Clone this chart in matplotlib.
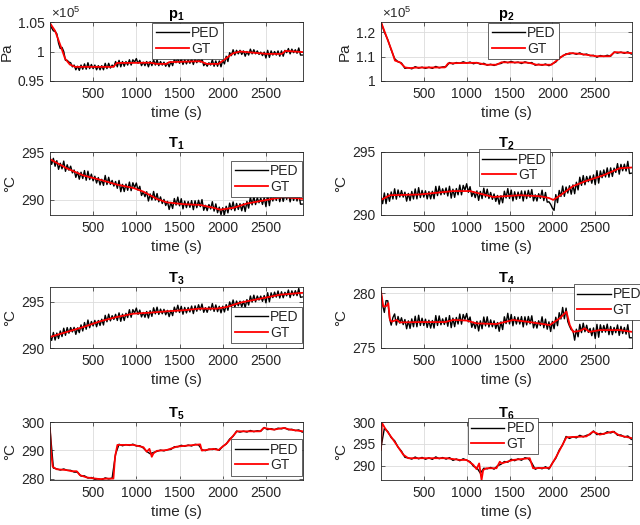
import numpy as np
import matplotlib
matplotlib.use('Agg')
import matplotlib.pyplot as plt
from matplotlib.ticker import FuncFormatter

# ── Style ─────────────────────────────────────────────────
plt.rcParams['font.family'] = ['Liberation Sans', 'DejaVu Sans']
plt.rcParams['mathtext.fontset'] = 'custom'
plt.rcParams['mathtext.rm'] = 'Liberation Sans'
plt.rcParams['mathtext.it'] = 'Liberation Sans:italic'
plt.rcParams['mathtext.bf'] = 'Liberation Sans:bold'
TXT = '#262626'

# ── Data ──────────────────────────────────────────────────
# PED sampled every 20 s (noisy channels) or 40 s; GT as read-off breakpoints
t_ped20 = np.arange(0, 2921, 20)
t_ped40 = np.arange(0, 2921, 40)

# p1 (x1e5 Pa)
p1_gt_t = [1, 60, 135, 175, 230, 290, 735, 775, 1160, 1240, 1350, 1380, 1740, 1815,
           1950, 2120, 2200, 2510, 2685, 2725, 2929]
p1_gt = [1.048, 1.035, 1.005, 0.988, 0.978, 0.974, 0.974, 0.9805, 0.981, 0.979, 0.979,
         0.982, 0.9835, 0.979, 0.979, 0.997, 1.0, 0.996, 0.996, 1.001, 0.999]
p1_ped = [1.049, 1.040, 1.035, 1.034, 1.030, 1.014, 1.005, 1.007,
          1.000, 0.985, 0.985, 0.982, 0.981, 0.974, 0.977, 0.969,
          0.975, 0.968, 0.977, 0.970, 0.979, 0.970, 0.981, 0.971,
          0.978, 0.971, 0.977, 0.969, 0.976, 0.969, 0.976, 0.969,
          0.980, 0.971, 0.980, 0.972, 0.977, 0.974, 0.983, 0.974,
          0.985, 0.974, 0.983, 0.975, 0.983, 0.977, 0.986, 0.977,
          0.986, 0.982, 0.988, 0.980, 0.985, 0.976, 0.982, 0.976,
          0.983, 0.974, 0.983, 0.976, 0.986, 0.977, 0.986, 0.976,
          0.983, 0.977, 0.982, 0.975, 0.981, 0.974, 0.983, 0.976,
          0.987, 0.981, 0.989, 0.980, 0.988, 0.978, 0.986, 0.979,
          0.986, 0.980, 0.988, 0.978, 0.988, 0.981, 0.988, 0.982,
          0.988, 0.976, 0.980, 0.975, 0.981, 0.977, 0.986, 0.975,
          0.984, 0.975, 0.984, 0.974, 0.985, 0.979, 0.992, 0.983,
          0.998, 0.993, 1.003, 0.994, 1.002, 0.996, 1.002, 0.995,
          1.001, 0.992, 1.000, 0.994, 1.004, 0.996, 1.003, 0.996,
          1.001, 0.995, 0.999, 0.993, 0.999, 0.989, 1.002, 0.990,
          1.001, 0.994, 1.000, 0.994, 1.001, 0.992, 1.001, 0.992,
          1.002, 0.998, 1.005, 0.996, 1.004, 0.998, 1.003, 0.997,
          1.006, 0.994, 0.994]

# p2 (x1e5 Pa)
p2_gt_t = [1, 125, 164, 222, 281, 339, 400, 747, 785, 1115, 1232, 1348, 1407, 1698,
           1740, 1815, 1989, 2125, 2203, 2319, 2513, 2669, 2727, 2929]
p2_gt = [1.243, 1.126, 1.084, 1.077, 1.056, 1.053, 1.055, 1.056, 1.073, 1.075, 1.067,
         1.067, 1.077, 1.076, 1.074, 1.067, 1.067, 1.105, 1.115, 1.112, 1.102, 1.102,
         1.119, 1.115]
p2_ped = [1.243, 1.202, 1.170, 1.128, 1.092, 1.079, 1.074, 1.052, 1.055, 1.050,
          1.059, 1.053, 1.057, 1.052, 1.057, 1.052, 1.060, 1.054, 1.058, 1.059,
          1.076, 1.070, 1.076, 1.073, 1.079, 1.074, 1.078, 1.071, 1.076, 1.069,
          1.073, 1.065, 1.069, 1.064, 1.070, 1.072, 1.080, 1.075, 1.081, 1.075,
          1.078, 1.072, 1.079, 1.074, 1.076, 1.065, 1.069, 1.065, 1.070, 1.063,
          1.071, 1.078, 1.096, 1.102, 1.112, 1.111, 1.115, 1.110, 1.116, 1.108,
          1.111, 1.104, 1.106, 1.098, 1.105, 1.101, 1.106, 1.102, 1.119, 1.115,
          1.119, 1.114, 1.120, 1.111]

# T1 (degC)
T1_gt_t = [1, 194, 387, 580, 773, 966, 1082, 1237, 1353, 1546, 1739, 1893, 1971, 2125,
           2280, 2512, 2705, 2929]
T1_gt = [294.25, 293.3, 292.55, 292.1, 291.6, 291.24, 290.86, 290.1, 289.74, 289.55,
         289.47, 289.17, 288.98, 289.17, 289.62, 290.0, 290.3, 290.1]
T1_ped = [294.5, 293.71, 294.34, 293.51, 294.09, 293.19, 293.83, 293.24,
          294.05, 292.98, 293.67, 293.1, 293.52, 292.82, 293.12, 292.35,
          292.92, 292.16, 292.89, 292.23, 293.06, 292.05, 293.0, 292.12,
          292.69, 291.99, 292.47, 291.76, 292.33, 291.56, 292.15, 291.51,
          292.55, 291.6, 292.36, 291.61, 292.03, 291.44, 291.92, 291.21,
          292.03, 290.85, 291.62, 290.87, 291.64, 291.0, 291.86, 290.96,
          291.79, 291.28, 291.76, 291.01, 291.42, 290.46, 290.83, 290.33,
          290.85, 289.88, 290.62, 289.99, 290.88, 289.98, 290.66, 289.8,
          290.31, 289.62, 290.05, 289.41, 289.85, 289.0, 289.74, 289.1,
          290.14, 289.46, 290.29, 289.38, 290.12, 289.06, 289.87, 289.19,
          289.83, 289.22, 289.92, 288.97, 289.91, 289.18, 289.96, 289.29,
          290.03, 288.91, 289.43, 288.87, 289.51, 289.05, 289.81, 288.83,
          289.58, 288.66, 289.24, 288.45, 289.18, 288.48, 289.33, 288.64,
          289.66, 288.97, 289.79, 288.87, 289.63, 289.0, 289.6, 288.86,
          289.62, 288.78, 289.84, 289.14, 290.29, 289.48, 290.36, 289.51,
          290.24, 289.7, 290.19, 289.52, 290.25, 289.29, 290.57, 289.4,
          290.54, 289.88, 290.58, 289.94, 290.74, 289.81, 290.61, 289.84,
          290.54, 290.05, 290.73, 289.79, 290.59, 289.94, 290.49, 289.88,
          290.74, 289.55, 289.56]

# T2 (degC)
T2_gt_t = [1, 106, 455, 844, 1038, 1310, 1620, 1853, 1960, 2010, 2080, 2241, 2397,
           2591, 2785, 2929]
T2_gt = [291.2, 291.57, 291.63, 291.9, 291.9, 291.43, 291.57, 291.49, 291.35, 291.2,
         291.5, 292.29, 292.71, 293.14, 293.71, 293.77]
T2_ped = [291.4, 290.9, 291.75, 290.9, 291.7, 291.09, 291.83, 291.27,
          292.08, 291.26, 291.99, 291.43, 291.94, 291.42, 291.81, 291.1,
          291.71, 291.14, 291.87, 291.27, 292.07, 291.28, 292.17, 291.38,
          291.95, 291.42, 291.92, 291.28, 291.86, 291.28, 291.88, 291.29,
          292.27, 291.54, 292.29, 291.6, 292.08, 291.65, 292.15, 291.51,
          292.28, 291.34, 292.05, 291.4, 292.1, 291.6, 292.38, 291.6,
          292.35, 291.98, 292.48, 291.8, 292.25, 291.47, 291.85, 291.38,
          291.91, 291.16, 291.87, 291.3, 292.13, 291.42, 292.05, 291.31,
          291.79, 291.24, 291.67, 291.08, 291.55, 290.86, 291.53, 290.97,
          291.89, 291.35, 292.1, 291.31, 291.98, 291.12, 291.84, 291.25,
          291.82, 291.32, 291.91, 291.11, 291.9, 291.3, 291.96, 291.39,
          292.02, 291.12, 291.6, 291.11, 291.69, 291.32, 291.97, 291.14,
          291.79, 291.02, 291.05, 290.85, 290.55, 290.37, 291.62, 290.98,
          291.95, 291.47, 292.3, 291.48, 292.22, 291.74, 292.32, 291.65,
          292.39, 291.69, 292.6, 291.99, 293.0, 292.35, 293.13, 292.4,
          293.06, 292.64, 293.1, 292.52, 293.18, 292.41, 293.52, 292.53,
          293.5, 292.96, 293.58, 293.02, 293.74, 293.0, 293.74, 293.06,
          293.72, 293.38, 294.08, 293.24, 294.02, 293.51, 294.03, 293.49,
          294.26, 293.29, 293.32]

# T3 (degC)
T3_gt_t = [1, 194, 387, 580, 773, 966, 1159, 1353, 1546, 1739, 1932, 2048, 2203, 2434,
           2666, 2929]
T3_gt = [291.2, 291.74, 292.28, 292.9, 293.37, 293.73, 293.84, 293.99, 294.1, 294.28,
         294.28, 294.46, 294.93, 295.36, 295.8, 296.0]
T3_ped = [291.3, 290.83, 291.69, 290.86, 291.62, 291.03, 291.85, 291.24,
          292.15, 291.38, 292.22, 291.61, 292.22, 291.75, 292.24, 291.48,
          292.19, 291.67, 292.51, 291.85, 292.77, 292.04, 293.04, 292.2,
          292.88, 292.4, 293.0, 292.31, 292.99, 292.45, 293.13, 292.5,
          293.55, 292.85, 293.68, 292.95, 293.51, 293.1, 293.66, 292.99,
          293.82, 292.9, 293.68, 292.99, 293.77, 293.31, 294.16, 293.34,
          294.17, 293.81, 294.34, 293.65, 294.12, 293.38, 293.86, 293.34,
          293.97, 293.26, 294.06, 293.44, 294.37, 293.71, 294.44, 293.65,
          294.23, 293.72, 294.2, 293.61, 294.09, 293.41, 294.08, 293.52,
          294.44, 293.9, 294.65, 293.86, 294.53, 293.67, 294.41, 293.81,
          294.4, 293.92, 294.56, 293.74, 294.58, 294.0, 294.7, 294.12,
          294.78, 293.88, 294.38, 293.88, 294.48, 294.13, 294.83, 293.98,
          294.68, 293.95, 294.53, 293.82, 294.54, 293.92, 294.71, 294.1,
          295.01, 294.47, 295.22, 294.43, 295.1, 294.59, 295.09, 294.47,
          295.1, 294.39, 295.26, 294.67, 295.65, 294.99, 295.74, 295.02,
          295.65, 295.21, 295.64, 295.07, 295.7, 294.91, 296.01, 295.02,
          296.0, 295.47, 296.07, 295.53, 296.2, 295.43, 296.11, 295.46,
          296.05, 295.67, 296.3, 295.48, 296.21, 295.7, 296.23, 295.69,
          296.47, 295.51, 295.55]

# T4 (degC)
T4_gt_t = [1, 28, 59, 86, 106, 125, 184, 222, 455, 747, 844, 999, 1115, 1348, 1542,
           1698, 1970, 2086, 2164, 2203, 2241, 2319, 2377, 2436, 2552, 2785, 2929]
T4_gt = [280.15, 278.77, 278.8, 279.08, 277.55, 277.4, 277.55, 277.33, 277.36, 277.36,
         277.55, 277.5, 277.24, 277.18, 277.55, 277.4, 277.09, 277.7, 278.31, 277.09,
         276.47, 276.55, 276.78, 276.47, 276.63, 276.63, 276.47]
T4_ped = [280.1, 278.9, 278.24, 279.31, 279.3, 277.71, 277.08, 277.77,
          278.1, 277.09, 277.87, 277.27, 277.75, 277.13, 277.59, 276.75,
          277.47, 276.78, 277.65, 276.93, 277.89, 276.93, 277.98, 277.05,
          277.71, 277.05, 277.62, 276.87, 277.53, 276.81, 277.5, 276.81,
          277.95, 277.05, 277.92, 277.11, 277.65, 277.14, 277.77, 276.98,
          277.95, 276.85, 277.72, 276.94, 277.78, 277.18, 278.09, 277.17,
          278.05, 277.6, 278.14, 277.38, 277.82, 276.88, 277.34, 276.78,
          277.42, 276.55, 277.47, 276.75, 277.82, 277.01, 277.84, 276.91,
          277.56, 276.93, 277.47, 276.77, 277.32, 276.52, 277.38, 276.68,
          277.84, 277.22, 278.16, 277.19, 278.05, 277.02, 277.85, 277.18,
          277.8, 277.18, 277.86, 276.92, 277.84, 277.1, 277.87, 277.2,
          277.93, 276.83, 277.39, 276.81, 277.48, 277.04, 277.84, 276.84,
          277.63, 276.71, 277.38, 276.5, 277.42, 276.75, 277.8, 277.03,
          278.21, 277.64, 278.69, 277.66, 278.63, 277.4, 276.99, 276.66,
          276.6, 275.71, 276.71, 276.02, 277.15, 276.4, 277.26, 276.48,
          277.07, 276.42, 276.78, 276.12, 276.83, 275.87, 277.15, 275.98,
          277.11, 276.42, 277.05, 276.45, 277.17, 276.21, 276.96, 276.21,
          276.87, 276.39, 277.1, 276.15, 276.97, 276.32, 276.87, 276.26,
          277.12, 275.93, 275.93]

# T5 (degC)
T5_gt_t = [1, 12, 32, 78, 194, 252, 310, 348, 426, 580, 658, 735, 754, 781, 966, 1082,
           1121, 1152, 1179, 1198, 1237, 1353, 1469, 1739, 1758, 1893, 1951, 2048, 2164,
           2434, 2473, 2589, 2705, 2782, 2929]
T5_gt = [297.9, 290.0, 284.2, 283.3, 283.0, 282.6, 282.6, 281.2, 280.4, 279.8, 280.0,
         280.0, 287.7, 291.9, 291.9, 291.1, 289.5, 290.5, 287.7, 288.9, 289.8, 290.1,
         291.3, 292.1, 289.9, 290.5, 290.1, 292.5, 296.7, 296.7, 297.9, 297.3, 297.9,
         297.3, 296.7]
T5_ped = [297.9, 283.73, 283.42, 283.02, 283.4, 282.91, 282.91, 282.3, 282.26, 280.89,
          280.97, 280.2, 280.38, 279.76, 279.94, 279.58, 280.25, 279.88, 280.15, 288.69,
          292.14, 291.6, 292.02, 291.72, 292.17, 291.54, 291.61, 290.83, 289.59, 288.76,
          289.25, 289.65, 290.08, 289.79, 290.21, 290.3, 291.24, 291.23, 291.77, 291.42,
          291.85, 291.53, 292.11, 291.91, 290.2, 289.86, 290.42, 290.27, 290.54, 290.0,
          291.39, 292.19, 293.97, 294.95, 296.78, 296.43, 296.76, 296.46, 297.0, 296.58,
          296.91, 296.72, 298.05, 297.3, 297.64, 297.26, 297.82, 297.59, 297.92, 297.26,
          297.43, 296.95, 297.2, 296.43]

# T6 (degC)
T6_gt_t = [1, 12, 47, 144, 261, 319, 766, 921, 999, 1077, 1115, 1146, 1174, 1193, 1232,
           1348, 1387, 1407, 1542, 1736, 1775, 1969, 2047, 2164, 2397, 2475, 2552, 2707,
           2785, 2929]
T6_gt = [293.6, 299.8, 298.6, 295.9, 292.5, 291.7, 291.7, 291.3, 291.3, 290.2, 289.2,
         290.5, 286.7, 289.0, 289.4, 289.4, 290.9, 290.5, 291.3, 291.7, 289.4, 289.5,
         292.1, 296.5, 296.7, 297.8, 297.1, 297.8, 296.9, 296.3]
T6_ped = [294.0, 298.53, 297.82, 296.42, 295.7, 294.21, 293.31, 291.9, 291.76, 291.49,
          291.97, 291.55, 291.88, 291.46, 291.79, 291.43, 292.0, 291.58, 291.85, 291.49,
          291.84, 291.2, 291.52, 291.12, 291.57, 291.24, 290.91, 289.83, 289.49, 288.26,
          289.4, 289.25, 289.58, 289.19, 289.96, 290.3, 290.94, 290.78, 291.47, 291.12,
          291.55, 291.23, 291.81, 291.61, 290.6, 289.16, 289.52, 289.27, 289.74, 289.2,
          290.59, 291.69, 293.57, 294.75, 296.68, 296.23, 296.61, 296.36, 296.95, 296.58,
          296.96, 297.12, 297.95, 297.1, 297.39, 297.21, 297.77, 297.49, 297.82, 296.96,
          297.03, 296.55, 296.8, 296.03]

titles = [r'$\mathbf{p_1}$', r'$\mathbf{p_2}$', r'$\mathbf{T_1}$', r'$\mathbf{T_2}$',
          r'$\mathbf{T_3}$', r'$\mathbf{T_4}$', r'$\mathbf{T_5}$', r'$\mathbf{T_6}$']
ylabels = ['Pa', 'Pa', '°C', '°C', '°C', '°C', '°C', '°C']
ylims = [(0.95, 1.05), (1.0, 1.243), (288.42, 295), (290, 295),
         (290, 296.63), (275, 280.55), (279.5, 300), (286.7, 300)]
yticks = [[0.95, 1, 1.05], [1, 1.1, 1.2], [290, 295], [290, 295],
          [290, 295], [275, 280], [280, 290, 300], [290, 295, 300]]

series = [(t_ped20, p1_ped, p1_gt_t, p1_gt), (t_ped40, p2_ped, p2_gt_t, p2_gt),
          (t_ped20, T1_ped, T1_gt_t, T1_gt), (t_ped20, T2_ped, T2_gt_t, T2_gt),
          (t_ped20, T3_ped, T3_gt_t, T3_gt), (t_ped20, T4_ped, T4_gt_t, T4_gt),
          (t_ped40, T5_ped, T5_gt_t, T5_gt), (t_ped40, T6_ped, T6_gt_t, T6_gt)]

# ── Layout (pixels of a 640x525 canvas) ───────────────────
col_left = [50 / 640, 381 / 640]
col_w = [253 / 640, 251 / 640]
row_px = [(22, 81), (152, 215), (287, 348), (422, 480)]

# legend placement: (loc, anchor in axes fraction)
leg_pos = [('upper left', (0.405, 0.985)), ('upper left', (0.427, 0.985)),
           ('upper right', (0.997, 0.86)), ('upper left', (0.39, 1.04)),
           ('lower right', (0.997, 0.08)), ('upper left', (0.768, 1.05)),
           ('upper right', (0.997, 0.70)), ('upper left', (0.345, 1.07))]

# ── Plot ──────────────────────────────────────────────────
fig = plt.figure(figsize=(6.4, 5.25), dpi=100)

for k in range(8):
    r, c = divmod(k, 2)
    top, bot = row_px[r]
    ax = fig.add_axes([col_left[c], 1 - bot / 525, col_w[c], (bot - top) / 525])
    t_ped, ped, gt_t, gt = series[k]

    ax.plot(t_ped, ped, color='k', lw=1.0, label='PED')
    ax.plot(gt_t, gt, color='r', lw=1.3, label='GT')

    ax.set_xlim(1, 2929)
    ax.set_ylim(*ylims[k])
    ax.set_xticks([500, 1000, 1500, 2000, 2500])
    ax.set_yticks(yticks[k])
    ax.yaxis.set_major_formatter(FuncFormatter(lambda v, p: '%g' % v))

    ax.grid(True, color='#dcdcdc', lw=0.6)
    ax.set_axisbelow(True)
    ax.tick_params(direction='in', length=3, width=0.5, labelsize=10,
                   colors=TXT, top=True, right=True, pad=4)
    for s in ax.spines.values():
        s.set_linewidth(0.6)
        s.set_color(TXT)

    ax.set_title(titles[k], fontsize=10.5, color='k', pad=3)
    ax.set_ylabel(ylabels[k], fontsize=11, color=TXT, labelpad=3)
    ax.set_xlabel('time (s)', fontsize=11, color=TXT, labelpad=4)

    if k < 2:
        ax.text(0.005, 1.01, r'$\times10^5$', transform=ax.transAxes,
                ha='left', va='bottom', fontsize=9.5, color=TXT)

    loc, anchor = leg_pos[k]
    leg = ax.legend(loc=loc, bbox_to_anchor=anchor, fontsize=10, handlelength=2.4,
                    handletextpad=0.15, borderpad=0.25, labelspacing=0.1,
                    borderaxespad=0, fancybox=False, framealpha=1, edgecolor=TXT)
    leg.get_frame().set_linewidth(0.5)
    for txt in leg.get_texts():
        txt.set_color(TXT)

fig.savefig('out.png', dpi=100)
